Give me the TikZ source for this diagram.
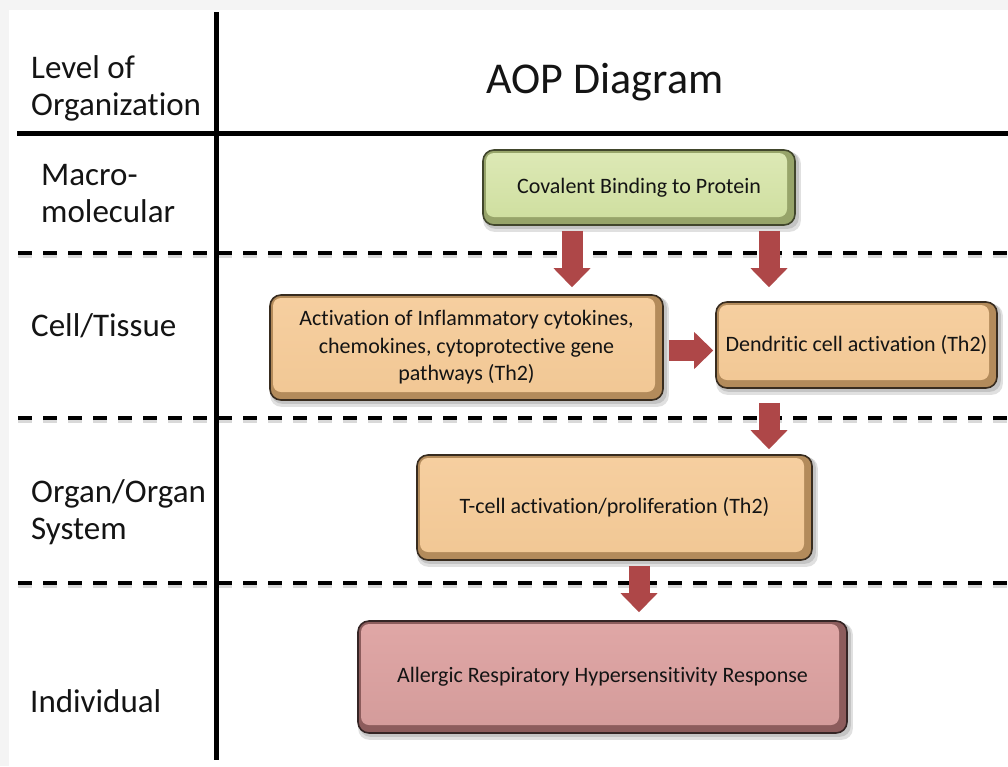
\documentclass[tikz,border=0pt]{standalone}
\usepackage{fontspec}
\setmainfont{Carlito}[Ligatures=NoCommon]
\usetikzlibrary{arrows.meta,calc}
\pgfdeclarelayer{bglayer}
\pgfdeclarelayer{shadowlayer}
\pgfsetlayers{bglayer,shadowlayer,main}
\definecolor{marg}{HTML}{F4F4F4}
\definecolor{txt}{HTML}{141414}
\definecolor{gmaintop}{HTML}{DDE9B6}
\definecolor{gmainbot}{HTML}{CEDE9E}
\definecolor{gbevel}{HTML}{97A46A}
\definecolor{gborder}{HTML}{41462C}
\definecolor{omaintop}{HTML}{F6CFA0}
\definecolor{omainbot}{HTML}{F1C794}
\definecolor{obevel}{HTML}{B38B5B}
\definecolor{oborder}{HTML}{382C1F}
\definecolor{pmaintop}{HTML}{E0A7A6}
\definecolor{pmainbot}{HTML}{D39B9A}
\definecolor{pbevel}{HTML}{8C5C5C}
\definecolor{pborder}{HTML}{352525}
\definecolor{arrowred}{HTML}{AE4748}
\tikzset{
  lbl/.style={anchor=base west, inner sep=0pt, align=left, text=txt,
    font=\fontsize{33}{37}\selectfont},
  titletext/.style={anchor=base, inner sep=0pt, text=txt,
    font=\fontsize{44}{50}\selectfont},
  basebox/.style={line width=1.6pt, rounded corners=11pt, align=center,
    inner sep=4pt, text=txt, font=\fontsize{22}{27.5}\selectfont},
  greenbox/.style={basebox, fill=gbevel, draw=gborder,
    path picture={\shade[top color=gmaintop, bottom color=gmainbot, rounded corners=8pt]
      ([xshift=3pt,yshift=-3pt]path picture bounding box.north west) rectangle
      ([xshift=-8pt,yshift=8pt]path picture bounding box.south east);}},
  orangebox/.style={basebox, fill=obevel, draw=oborder,
    path picture={\shade[top color=omaintop, bottom color=omainbot, rounded corners=8pt]
      ([xshift=3pt,yshift=-3pt]path picture bounding box.north west) rectangle
      ([xshift=-8pt,yshift=8pt]path picture bounding box.south east);}},
  pinkbox/.style={basebox, fill=pbevel, draw=pborder,
    path picture={\shade[top color=pmaintop, bottom color=pmainbot, rounded corners=8pt]
      ([xshift=3pt,yshift=-3pt]path picture bounding box.north west) rectangle
      ([xshift=-8pt,yshift=8pt]path picture bounding box.south east);}},
  solidrule/.style={line width=5pt, draw=black},
  dashrule/.style={line width=4.5pt, draw=black, dash pattern=on 14pt off 11pt},
  dashshadow/.style={line width=4.5pt, draw=black, opacity=0.15, dash pattern=on 14pt off 11pt},
  redarrow/.style={draw=arrowred, line width=21pt,
    -{Triangle[width=37pt,length=19pt,line width=0pt]}},
}
\begin{document}
\begin{tikzpicture}[x=1pt,y=-1pt]
\useasboundingbox (0,0) rectangle (1008,766);
\begin{pgfonlayer}{bglayer}
  \fill[marg] (0,0) rectangle (1008,766);
  \fill[white] (9,10) rectangle (1008,766);
\end{pgfonlayer}

% grid rules
\foreach \yy in {253,418,583}{
  \draw[dashshadow] (18,\yy+2.5) -- (1008,\yy+2.5);
  \draw[dashrule] (18,\yy) -- (1008,\yy);
}
\draw[solidrule] (17,133.5) -- (1008,133.5);
\draw[solidrule] (216,12) -- (216,760);

% labels
\node[titletext] (title) at (605,93) {AOP Diagram};
\node[lbl] (lvl) at (31,115) {Level of\\Organization};
\node[lbl] (macro) at (41,222) {Macro-\\molecular};
\node[lbl] (cell) at (31,336) {Cell/Tissue};
\node[lbl] (organ) at (31,539) {Organ/Organ\\System};
\node[lbl] (indiv) at (30,712) {Individual};

% boxes
\node[greenbox, minimum width=312pt, minimum height=75pt] (cov) at (639,187.5)
  {Covalent Binding to Protein};
\node[orangebox, minimum width=393pt, minimum height=105pt] (infl) at (466.5,347.5)
  {Activation of Inflammatory cytokines,\\chemokines, cytoprotective gene\\pathways (Th2)};
\node[orangebox, minimum width=281pt, minimum height=86pt, inner sep=1pt] (dend) at (856.5,345)
  {Dendritic cell activation (Th2)};
\node[orangebox, minimum width=395pt, minimum height=105pt] (tcell) at (614.5,507.5)
  {T-cell activation/proliferation (Th2)};
\node[pinkbox, minimum width=489pt, minimum height=112pt] (ars) at (602.5,677)
  {Allergic Respiratory Hypersensitivity Response};

\begin{pgfonlayer}{shadowlayer}
  \foreach \n in {cov,infl,dend,tcell,ars}{
    \fill[black, opacity=0.12, rounded corners=11pt]
      ([xshift=1pt,yshift=-3pt]\n.north west) rectangle ([xshift=5pt,yshift=-6pt]\n.south east);
    \fill[black, opacity=0.12, rounded corners=11pt]
      ([xshift=2pt,yshift=-2pt]\n.north west) rectangle ([xshift=3pt,yshift=-3pt]\n.south east);
  }
\end{pgfonlayer}

% arrows
\coordinate (a1x) at (572,0);
\coordinate (a2x) at (769,0);
\coordinate (a5x) at (639,0);
\draw[redarrow] ($(cov.south -| a1x)+(0,5)$) -- ($(infl.north -| a1x)+(0,-7)$);
\draw[redarrow] ($(cov.south -| a2x)+(0,5)$) -- ($(dend.north -| a2x)+(0,-14)$);
\draw[redarrow] ($(infl.east)+(5,3)$) -- ($(dend.west |- infl.east)+(-2,3)$);
\draw[redarrow] ($(dend.south -| a2x)+(0,14)$) -- ($(tcell.north -| a2x)+(0,-5)$);
\draw[redarrow] ($(tcell.south -| a5x)+(0,5)$) -- ($(ars.north -| a5x)+(0,-8)$);
\end{tikzpicture}
\end{document}
